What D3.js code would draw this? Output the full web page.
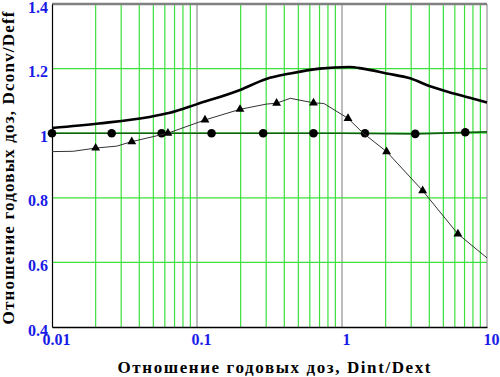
<!DOCTYPE html>
<html>
<head>
<meta charset="utf-8">
<script src="https://cdn.jsdelivr.net/npm/d3@7"></script>
<style>
  body { margin: 0; background: #fff; }
  svg { display: block; }
</style>
</head>
<body>
<svg id="chart"></svg>
<script>
// thick curve, Dconv/Deff
const convX = [0.01, 0.021, 0.047, 0.065, 0.1, 0.198, 0.30, 0.44, 0.70, 1.13, 1.39, 2.03, 2.95, 4.0, 5.8, 7.6, 10];
const convY = [1.016, 1.03, 1.05, 1.063, 1.09, 1.134, 1.168, 1.185, 1.20, 1.205, 1.20, 1.185, 1.17, 1.146, 1.124, 1.11, 1.095];

// thin curve with triangles
const triLineX = [0.01, 0.014, 0.02, 0.028, 0.0355, 0.063, 0.1135, 0.198, 0.30, 0.354, 0.44, 0.636, 0.75, 1.10, 1.4, 2.03, 3.6, 6.3, 10];
const triLineY = [0.943, 0.944, 0.954, 0.96, 0.974, 1.0, 1.041, 1.074, 1.09, 1.093, 1.108, 1.094, 1.092, 1.046, 1.0, 0.943, 0.822, 0.688, 0.614];
const triMarkX = [0.02, 0.0355, 0.063, 0.1135, 0.198, 0.354, 0.636, 1.10, 2.03, 3.6, 6.3];
const triMarkY = [0.954, 0.974, 1.0, 1.041, 1.074, 1.093, 1.094, 1.046, 0.943, 0.822, 0.688];

// flat curve with circles
const circLineX = [0.01, 1.0, 3.2, 10];
const circLineY = [1.0, 1.0, 0.998, 1.004];
const circMarkX = [0.01, 0.0258, 0.057, 0.126, 0.286, 0.636, 1.44, 3.2, 7.08];
const circMarkY = [1.0, 1.0, 1.0, 1.0, 1.0, 1.0, 1.0, 0.998, 1.003];

const xTicks = [0.01, 0.1, 1, 10];
const xTickLabels = ["0.01", "0.1", "1", "10"];
const yTicks = [0.4, 0.6, 0.8, 1, 1.2, 1.4];
const yTickLabels = ["0.4", "0.6", "0.8", "1", "1.2", "1.4"];
const xTitle = "Отношение годовых доз, Dint/Dext";
const yTitle = "Отношение годовых доз, Dconv/Deff";

const serif = '"Liberation Serif", "Times New Roman", "DejaVu Serif", serif';
const width = 500, height = 377;
const margin = {top: 4, right: 13, bottom: 50, left: 52};
const innerW = width - margin.left - margin.right;
const innerH = height - margin.top - margin.bottom;

const svg = d3.select("#chart").attr("width", width).attr("height", height);
const g = svg.append("g").attr("transform", `translate(${margin.left},${margin.top})`);

const x = d3.scaleLog().domain([0.01, 10]).range([0, innerW]);
const y = d3.scaleLinear().domain([0.4, 1.4]).range([innerH, 0]);

// minor vertical grid (green) and decades (gray)
let minors = [];
[0.01, 0.1, 1].forEach(d => { for (let k = 2; k <= 9; k++) minors.push(d * k); });
g.selectAll(".vgrid").data(minors).enter().append("line")
  .attr("x1", d => x(d)).attr("x2", d => x(d))
  .attr("y1", 0).attr("y2", innerH)
  .attr("stroke", "#3de03d").attr("stroke-width", 1.2);
g.selectAll(".dgrid").data([0.1, 1]).enter().append("line")
  .attr("x1", d => x(d)).attr("x2", d => x(d))
  .attr("y1", 0).attr("y2", innerH)
  .attr("stroke", "#7a7a7a").attr("stroke-width", 1);
g.selectAll(".hgrid").data([0.6, 0.8, 1.0, 1.2]).enter().append("line")
  .attr("x1", 0).attr("x2", innerW)
  .attr("y1", d => y(d)).attr("y2", d => y(d))
  .attr("stroke", "#3de03d").attr("stroke-width", 1.2);

// frame: top / right gray
g.append("line").attr("x1", 0).attr("x2", innerW).attr("y1", 0).attr("y2", 0)
  .attr("stroke", "#808080").attr("stroke-width", 2.5);
g.append("line").attr("x1", innerW).attr("x2", innerW).attr("y1", 0).attr("y2", innerH)
  .attr("stroke", "#808080").attr("stroke-width", 1);

// axes
const xAxis = d3.axisBottom(x).tickValues(xTicks).tickSize(0).tickFormat((d, i) => xTickLabels[i]);
const yAxis = d3.axisLeft(y).tickValues(yTicks).tickSize(0).tickFormat((d, i) => yTickLabels[i]);
const gx = g.append("g").attr("transform", `translate(0,${innerH})`).call(xAxis);
const gy = g.append("g").call(yAxis);
[gx, gy].forEach(a => a.attr("font-family", null).attr("font-size", null)
  .selectAll(".tick text")
  .style("font-family", serif).style("font-weight", "bold").style("font-size", "16px").attr("fill", "#1a1ae6"));
gx.select(".domain").attr("stroke", "#000").attr("stroke-width", 1.5);
gx.selectAll(".tick text").attr("dy", "0.55em").attr("dx", 4).attr("y", 9);
gy.select(".domain").attr("stroke", "#000").attr("stroke-width", 1.2);
gy.selectAll(".tick text").attr("x", -4).attr("dy", "0.5em");

const zip = (a, b) => a.map((v, i) => [v, b[i]]);
const line = d3.line().x(d => x(d[0])).y(d => y(d[1]));

// flat line with circles
g.append("path").datum(zip(circLineX, circLineY)).attr("d", line)
  .attr("fill", "none").attr("stroke", "#0f5f0f").attr("stroke-width", 1.6);
g.selectAll(".circ").data(zip(circMarkX, circMarkY)).enter().append("circle")
  .attr("cx", d => x(d[0])).attr("cy", d => y(d[1])).attr("r", 4.3).attr("fill", "#000");

// thin line with triangles
g.append("path").datum(zip(triLineX, triLineY)).attr("d", line)
  .attr("fill", "none").attr("stroke", "#333").attr("stroke-width", 1);
const tri = d3.symbol().type(d3.symbolTriangle).size(34);
g.selectAll(".tri").data(zip(triMarkX, triMarkY)).enter().append("path")
  .attr("d", tri).attr("transform", d => `translate(${x(d[0])},${y(d[1])})`).attr("fill", "#000");

// thick line
g.append("path").datum(zip(convX, convY)).attr("d", line.curve(d3.curveMonotoneX))
  .attr("fill", "none").attr("stroke", "#000").attr("stroke-width", 2.6);

// titles
const titleStyle = sel => sel.style("font-family", serif).style("font-weight", "bold")
  .style("font-size", "17px").attr("fill", "#000")
  .attr("text-anchor", "middle").attr("textLength", 313).attr("lengthAdjust", "spacing");
svg.append("text").attr("x", 274).attr("y", 373).text(xTitle).call(titleStyle);
svg.append("text").attr("transform", "translate(14,168) rotate(-90)").text(yTitle).call(titleStyle);
</script>
</body>
</html>
